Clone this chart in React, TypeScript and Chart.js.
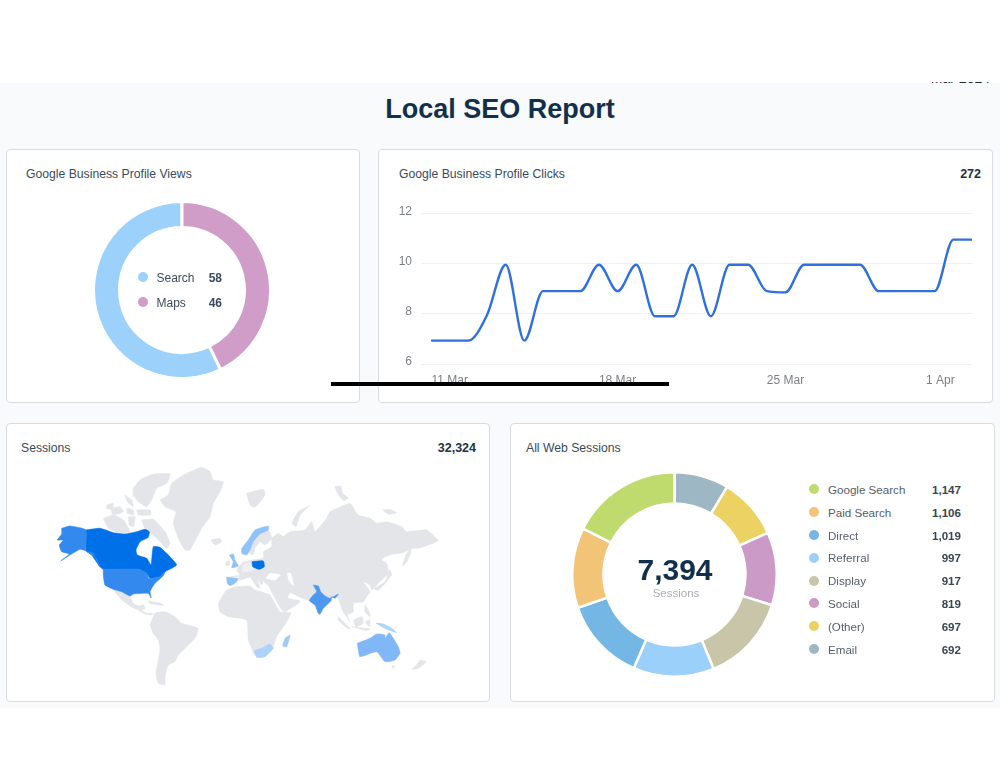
import React, { useEffect, useRef } from "react";
import { Chart, registerables } from "chart.js";

Chart.register(...registerables);

const FONT = '"Liberation Sans", Arial, sans-serif';

// ---------- Views donut ----------
const viewCategories = ["Search", "Maps"];
const viewValues = [58, 46];
const viewSliceShares = [57.2, 42.8]; // slice sizes as drawn in the picture
const viewColors = ["#9bd1fa", "#d09cc8"];

// ---------- Clicks line ----------
const clickTotal = 272;
const clickValues = [6.93, 6.93, 6.93, 7.95, 9.95, 6.93, 8.9, 8.9, 8.9, 9.95, 8.9, 9.95, 7.9, 7.9, 9.95, 7.9, 9.95, 9.95, 8.9, 8.85, 9.95, 9.95, 9.95, 9.95, 8.9, 8.9, 8.9, 8.9, 10.95, 10.95];
const clickTickPositions = [1, 10, 19, 27.3];
const clickTickLabels = ["11 Mar", "18 Mar", "25 Mar", "1 Apr"];
const clickYTicks = [6, 8, 10, 12];

// ---------- Web sessions donut ----------
const sessionCategories = ["Google Search", "Paid Search", "Direct", "Referral", "Display", "Social", "(Other)", "Email"];
const sessionValues = [1147, 1106, 1019, 997, 917, 819, 697, 692];
const sessionSliceDegrees = [63.4, 45.6, 47.5, 46, 50, 41.5, 35, 31]; // slice sizes as drawn in the picture
const sessionColors = ["#bfda6d", "#f2c477", "#74b7e4", "#9bd0fa", "#c9c5a9", "#cc9ac7", "#ecd263", "#9db8c4"];
const sessionTotal = 7394;
const mapTotal = 32324;

// ---------- World map: outlines, in map units ----------
type P = [number, number];
const land: P[][] = [
  // Greenland
  [[160,500],[168.3,495],[171.7,483.3],[183.3,475],[201.7,467.3],[210,471.7],[213.3,480],[223.3,481.7],[220,491.7],[213.3,503.3],[210,516.7],[201.7,528.3],[190,550],[185,550],[178.3,538.3],[173.3,523.3],[176,511.7],[165,506.7]],
  // Arctic Canada
  [[133.3,488.3],[140,480],[153.3,474],[170,474],[166.7,483.3],[156.7,488.3],[151.7,500],[146.7,506.7],[138.3,501.7],[133.3,495]],
  [[141.7,520],[153.3,519.3],[165,531.7],[170,543.3],[166.7,548.3],[156.7,538.3],[145,528.3]],
  [[103.3,518.3],[113.3,515],[123.3,520],[130,531.7],[120,533.3],[108.3,528.3]],
  [[110,508.3],[120,506.7],[123.3,511.7],[113.3,515]],
  [[106.7,505],[113.3,503.3],[112.7,508.3],[106.7,509]],
  [[125,495],[131.7,500],[133.3,506.7],[127.3,501.7]],
  [[126.7,508.3],[133.3,510],[133.3,515],[127.3,513.3]],
  [[136.7,510],[150,510],[150.7,515],[138.3,515]],
  [[128.3,516.7],[135,516.7],[133.3,526.7],[129.3,525]],
  // Mexico, Central America, Cuba
  [[113.3,589.3],[121.7,591.7],[130,596],[132.7,603],[138.3,606],[143.3,605],[145,608.3],[141.7,610],[146.7,613.3],[153.3,613.3],[151.7,615],[145,614],[136.7,609.3],[130,606],[122,600],[116.7,594]],
  [[148,601],[160,603],[163.3,605.5],[150,603.5]],
  // South America
  [[150,625],[155,613.3],[165,611.7],[175,616.7],[181.7,623.3],[198.3,628.3],[195,638.3],[190,643.3],[185,648.3],[178.3,655],[175,661.7],[168.3,665],[165,676.7],[165,685],[158.3,683.3],[156,673.3],[160,650],[158.3,640],[153.3,633.3]],
  // Iceland, Svalbard
  [[210.7,540],[220,538.3],[221.7,541.7],[215,545]],
  [[246.7,493.3],[263.3,489.3],[265,495],[255,507.3],[250,505]],
  // Sweden
  [[249.3,553.3],[253.3,541.7],[260,534],[268.3,530],[271.7,538.3],[265,545],[260,541.7],[255,548.3],[253.3,555]],
  // Eurasia
  [[283.3,536.7],[290,531.7],[305,530],[311.7,521.7],[315,531.7],[326.7,518.3],[330,511.7],[345,505],[350,503.3],[358.3,515],[370,518.3],[376.7,523.3],[386.7,521.7],[401.7,526.7],[406.7,531.7],[426.7,530],[438.3,540.7],[428.3,545],[418.3,548.3],[411.7,548.3],[403.3,552.7],[393.3,554],[385,556.7],[381.7,560],[386.7,563.3],[388.3,573.3],[378.3,583.3],[371.7,590],[370,585],[363.3,581.7],[370,591.7],[366.7,596.7],[363.3,601.7],[353.3,603.3],[353.3,611.7],[347.3,615],[350,621.7],[344,613.3],[341.7,608.3],[338.3,598.3],[333.3,595],[331.7,598],[309.3,600],[308.3,600],[300,597.3],[290,592.7],[287.7,598.3],[300,601],[297.7,604],[285,611.7],[281.7,610],[272.7,594],[268.3,585],[265,583.3],[263.3,580],[261.7,585],[256.7,578.3],[260,588.3],[256.7,586.7],[250,577.3],[240,580],[238.3,576.7],[226.7,577.3],[240,575],[236.7,570],[242.7,562.7],[251.7,560],[263.3,558.3],[263.3,551.7],[271.7,546.7],[271.7,538.3],[278.3,533.3]],
  // Ireland
  [[226,561.7],[229.3,560.7],[229.3,565],[226,566]],
  // Arctic Russia
  [[291.7,523.3],[298.3,511.7],[309.3,506],[300,515],[296,526.7]],
  [[335,486.7],[340.7,486],[342.7,493.3],[348.3,498.3],[344,500.7],[338.3,495]],
  [[382.7,510],[390,509.3],[396.7,512.7],[388.3,514]],
  // Japan, Sakhalin
  [[374,588.3],[385,581.7],[390,570],[391.7,575],[378.3,590.7]],
  [[406,554],[411.7,547.5],[410,555],[406.7,561.7],[402.7,566]],
  // Islands of Asia
  [[365,605],[369.3,611.7],[370,616.7],[365,611.7]],
  [[338.3,616.7],[350,628.3],[347.3,628.3],[338.3,620]],
  [[351.7,626.7],[370,629],[366.7,630.7]],
  [[353.3,620],[361.7,616.7],[363.3,623.3],[356,626.7]],
  [[365,621.7],[370,620],[369.3,626.7]],
  // Africa
  [[218.3,603.3],[226.7,590],[236.7,586.7],[250,586],[255,590],[270,595],[280,612],[291,612.5],[286.7,621.7],[276.7,636.7],[271.7,650],[263.3,656.7],[255,655],[248.3,640],[246.7,620],[228.3,616.7],[220,611.7]],
  // Tasmania, New Zealand
  [[391.7,666],[395,666],[392.7,668.3]],
  [[420,660],[426,661.7],[418.3,668.3],[411.7,669.3],[416.7,665]],
];
const inlandSeas: P[][] = [
  [[266,578.3],[270,573.3],[280,575],[275,580]],
  [[287.3,573.3],[290.7,573.3],[293.3,585],[289.3,581.7]],
];
const germany: P[] = [[242.7,565],[251.7,561.7],[253.3,570],[248.3,571.7],[242.7,571.7]];
const canada: P[] = [[86,530],[100,528.3],[113.3,532.7],[125,534],[136.7,531.7],[145,529.3],[149.3,531.7],[148.3,537.3],[140,541.7],[136,550],[137.3,555],[146.7,558.3],[151,565],[153.3,546.7],[160,547.3],[168.3,555],[176.7,565],[165,571.7],[160,576.7],[150,578.3],[146.7,573.3],[138.3,569.3],[103.3,569.3],[99.3,566],[91.7,555],[86,550.7]];
const alaska: P[] = [[61.7,528.3],[70,526],[86,530],[86,550.7],[93,553],[100,567],[96,558],[86,551],[80,549.3],[70,555],[60.7,561],[69.3,554],[61.7,551.7],[59.3,545],[63.3,540],[57.3,540],[61.7,534]];
const usa: P[] = [[103.3,569.3],[138.3,569.3],[146.7,573.3],[149,578.5],[160,576.7],[165,572],[163,576],[155,583.3],[150,591.7],[151.3,598],[148.3,593.3],[143.3,593.3],[133.3,594],[130,596],[121.7,591.7],[113.3,589.3],[105,585],[103.3,575]];
const poland: P[] = [[252,561.7],[263.3,561],[264.3,566.7],[259.3,569.3],[252.7,566.7]];
const india: P[] = [[313.3,585],[318.3,586],[320.7,591.7],[325,596],[330,598.3],[338.3,594],[335,598.3],[331.7,596.7],[331,600.7],[323.3,608.3],[320,614.3],[318.3,613.3],[315,605],[309.3,600.7],[313.3,595],[316.7,591.7]];
const australia: P[] = [[357.3,643.3],[370,638.3],[376.7,634],[385,635],[385,638.3],[389.3,632.7],[398.3,646.7],[400,653.3],[395,660],[385,661.7],[376.7,651.7],[360,656.7],[358.3,650]];
const norway: P[] = [[241.7,548.3],[248.3,540],[255,530],[268.3,526],[268.3,530],[260,534],[253.3,541.7],[250,550],[246.7,555],[241.7,553.3]];
const uk: P[] = [[229.3,555],[233.3,554],[235,560],[238.3,566],[231.7,567.7],[233.3,561.7]];
const spain: P[] = [[226.7,577.3],[238.3,578.7],[235,583.3],[230,585.7],[227.3,583.3]];
const southAfrica: P[] = [[254,650.7],[261.7,648.3],[270,644],[273.3,648.3],[265,656.7],[256.7,657.3]];
const madagascar: P[] = [[285,638.3],[290,635],[286.7,646.7],[282.7,646]];
const newGuinea: P[] = [[376,623.3],[383.3,624],[391.7,628.3],[396.7,632.7],[386.7,629.3]];

const LAND = "#e3e5e9";
const mapLayers: { shape: P[]; color: string }[] = [
  ...land.map((shape) => ({ shape, color: LAND })),
  ...inlandSeas.map((shape) => ({ shape, color: "#ffffff" })),
  { shape: germany, color: "#eef0f3" },
  { shape: canada, color: "#0070e8" },
  { shape: alaska, color: "#3389ee" },
  { shape: usa, color: "#3389ee" },
  { shape: poland, color: "#0070e8" },
  { shape: india, color: "#4d98f0" },
  { shape: australia, color: "#80b8f7" },
  { shape: norway, color: "#90c2fa" },
  { shape: uk, color: "#90c2fa" },
  { shape: spain, color: "#90c2fa" },
  { shape: southAfrica, color: "#add2fb" },
  { shape: madagascar, color: "#a0cafa" },
  { shape: newGuinea, color: "#add2fb" },
];

const fmt = (n: number) => n.toLocaleString("en-US");

function ChartCanvas({ left, top, width, height, make }: { left: number; top: number; width: number; height: number; make: (c: HTMLCanvasElement) => Chart }) {
  const ref = useRef<HTMLCanvasElement>(null);
  useEffect(() => {
    const chart = make(ref.current!);
    return () => chart.destroy();
  }, []);
  return <canvas ref={ref} width={width} height={height} style={{ position: "absolute", left, top, width, height, display: "block" }} />;
}

function Card({ x, y, w, h }: { x: number; y: number; w: number; h: number }) {
  return <div style={{ position: "absolute", left: x, top: y, width: w, height: h, boxSizing: "border-box", background: "#fff", border: "1px solid #d8dce2", borderRadius: 4 }} />;
}

function Text({ x, y, right, center, size = 12.2, bold, color = "#3a4a5c", children }: any) {
  const style: React.CSSProperties = {
    position: "absolute", top: y, transform: "translateY(-50%)", font: `${bold ? "bold " : ""}${size}px ${FONT}`,
    color, whiteSpace: "nowrap", lineHeight: 1.2,
  };
  if (center) { style.left = x; style.transform = "translate(-50%,-50%)"; }
  else if (right) { style.right = 1000 - x; }
  else style.left = x;
  return <div style={style}>{children}</div>;
}

function Dot({ x, y, color }: { x: number; y: number; color: string }) {
  return <div style={{ position: "absolute", left: x - 5, top: y - 5, width: 10, height: 10, borderRadius: 5, background: color }} />;
}

const makeViews = (c: HTMLCanvasElement) =>
  new Chart(c, {
    type: "doughnut",
    data: { labels: viewCategories, datasets: [{ data: viewSliceShares, backgroundColor: viewColors, borderColor: "#fff", borderWidth: 3 }] },
    options: {
      responsive: false, animation: false, cutout: 62.5, rotation: (viewSliceShares[1] / 100) * 360,
      layout: { padding: 0 }, plugins: { legend: { display: false }, tooltip: { enabled: false } },
    },
  });

const makeSessions = (c: HTMLCanvasElement) =>
  new Chart(c, {
    type: "doughnut",
    data: {
      labels: [...sessionCategories].reverse(),
      datasets: [{ data: [...sessionSliceDegrees].reverse(), backgroundColor: [...sessionColors].reverse(), borderColor: "#fff", borderWidth: 2.5 }],
    },
    options: {
      responsive: false, animation: false, cutout: 71, layout: { padding: 0 },
      plugins: { legend: { display: false }, tooltip: { enabled: false } },
    },
  });

const makeClicks = (c: HTMLCanvasElement) =>
  new Chart(c, {
    type: "line",
    data: {
      datasets: [{
        data: clickValues.map((y, x) => ({ x, y })), borderColor: "#2f6fe0", borderWidth: 2.4, pointRadius: 0,
        cubicInterpolationMode: "monotone", fill: false,
      }],
    },
    options: {
      responsive: false, animation: false,
      layout: { padding: { top: 13, right: 8, left: 0, bottom: 0 } },
      plugins: { legend: { display: false }, tooltip: { enabled: false } },
      scales: {
        x: {
          type: "linear", min: -0.54, max: 29,
          grid: { display: false }, border: { display: false },
          afterBuildTicks: (s: any) => { s.ticks = clickTickPositions.map((value) => ({ value })); },
          afterFit: (s: any) => { s.height = 36; },
          ticks: {
            autoSkip: false, maxRotation: 0, padding: 1, font: { family: FONT, size: 12 }, color: "#7b7f85",
            callback: (_v: any, i: number) => clickTickLabels[i],
          },
        },
        y: {
          min: 6, max: 12,
          grid: { color: "#eef0f2", drawTicks: false }, border: { display: false },
          afterBuildTicks: (s: any) => { s.ticks = clickYTicks.map((value) => ({ value })); },
          afterFit: (s: any) => { s.width = 41; },
          ticks: { padding: 9, labelOffset: -2, font: { family: FONT, size: 12 }, color: "#7b7f85" },
        },
      },
    },
  } as any);

const makeMap = (c: HTMLCanvasElement) =>
  new Chart(c, {
    type: "line",
    data: {
      // Chart.js paints the first dataset last, so the list is reversed to put the countries above the land
      datasets: [...mapLayers].reverse().map(({ shape, color }) => ({
        data: [...shape, shape[0]].map(([x, y]) => ({ x, y })),
        borderColor: color, backgroundColor: color, borderWidth: 0.6, pointRadius: 0, fill: "shape", tension: 0.15,
      })),
    },
    options: {
      responsive: false, animation: false, layout: { padding: 0 }, parsing: false as any,
      plugins: { legend: { display: false }, tooltip: { enabled: false } },
      scales: {
        x: { type: "linear", display: false, min: 0, max: 500 },
        y: { type: "linear", display: false, min: 420, max: 710, reverse: true },
      },
    },
  } as any);

export default function App() {
  return (
    <div style={{ position: "absolute", left: 0, top: 0, width: 1000, height: 768, background: "#fff", overflow: "hidden", fontFamily: FONT }}>
      <div style={{ position: "absolute", left: 0, top: 83, width: 1000, height: 625, background: "#f8fafc" }} />
      <div style={{ position: "absolute", left: 880, top: 82, width: 120, height: 5, overflow: "hidden" }}>
        <div style={{ position: "absolute", right: 10, bottom: 1, font: `14px ${FONT}`, color: "#1d2b3a", lineHeight: "16px", whiteSpace: "nowrap" }}>Mar 2024</div>
      </div>
      <Text x={500} y={109} center size={27} bold color="#12304c">Local SEO Report</Text>

      <Card x={6} y={149} w={354} h={254} />
      <Card x={378} y={149} w={615} h={254} />
      <Card x={6} y={423} w={484} h={279} />
      <Card x={510} y={423} w={485} h={279} />

      <Text x={26} y={174}>Google Business Profile Views</Text>
      <ChartCanvas left={92} top={200} width={180} height={180} make={makeViews} />
      {viewCategories.map((name, i) => (
        <React.Fragment key={name}>
          <Dot x={142.7} y={277 + i * 24.5} color={viewColors[i]} />
          <Text x={156.5} y={278 + i * 24.5} size={12}>{name}</Text>
          <Text x={222} y={278 + i * 24.5} right bold size={12}>{viewValues[i]}</Text>
        </React.Fragment>
      ))}

      <Text x={399} y={174}>Google Business Profile Clicks</Text>
      <Text x={981} y={174} right bold size={12.5} color="#1d3148">{fmt(clickTotal)}</Text>
      <ChartCanvas left={380} top={197} width={600} height={203} make={makeClicks} />

      <Text x={21} y={447.5}>Sessions</Text>
      <Text x={476} y={447.5} right bold size={12.5} color="#1d3148">{fmt(mapTotal)}</Text>
      <ChartCanvas left={0} top={420} width={500} height={290} make={makeMap} />

      <Text x={526} y={447.5}>All Web Sessions</Text>
      <ChartCanvas left={571} top={471} width={207} height={207} make={makeSessions} />
      <Text x={675} y={570} center size={30} bold color="#12304c">{fmt(sessionTotal)}</Text>
      <Text x={676} y={594} center size={11.5} color="#a9adb2">Sessions</Text>
      {sessionCategories.map((name, i) => (
        <React.Fragment key={name}>
          <Dot x={813.7} y={489.3 + i * 22.8} color={sessionColors[i]} />
          <Text x={828} y={490 + i * 22.8} size={11.6} color="#55606c">{name}</Text>
          <Text x={961} y={490 + i * 22.8} size={11.6} right bold color="#3a4654">{fmt(sessionValues[i])}</Text>
        </React.Fragment>
      ))}

      <div style={{ position: "absolute", left: 331, top: 382, width: 338, height: 4, background: "#000" }} />
    </div>
  );
}
